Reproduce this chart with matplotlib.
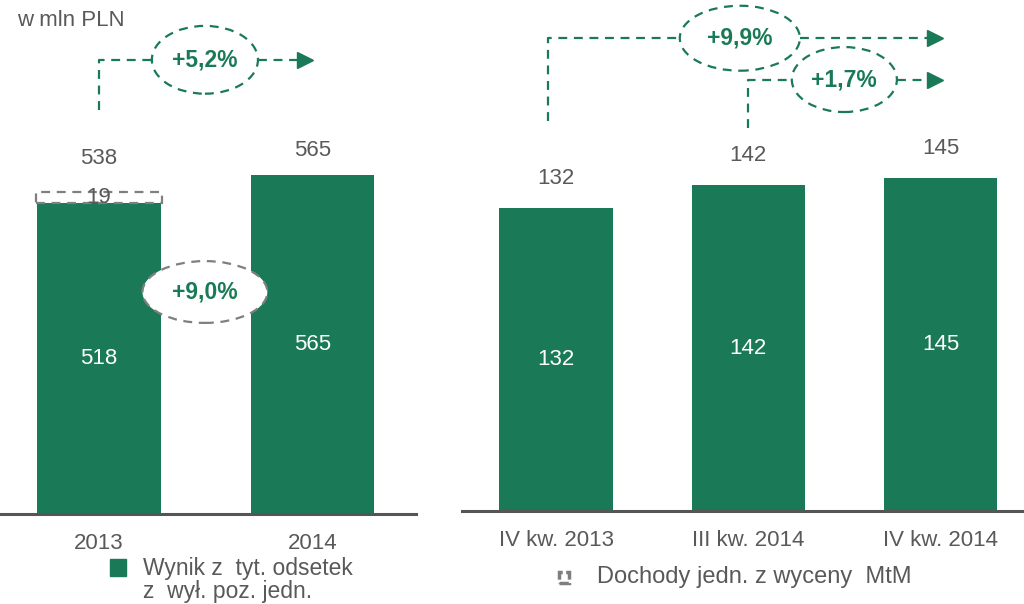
import matplotlib.pyplot as plt
from matplotlib.patches import Ellipse, Rectangle

plt.rcParams['font.family'] = ['Liberation Sans', 'DejaVu Sans']

# data
years = ['2013', '2014']
wynik = [518, 565]          # Wynik z tyt. odsetek z wył. poz. jedn.
mtm = [19, 0]               # Dochody jedn. z wyceny MtM
totals = [538, 565]
quarters = ['IV kw. 2013', 'III kw. 2014', 'IV kw. 2014']
q_vals = [132, 142, 145]
chg_year = '+5,2%'
chg_year_ex = '+9,0%'
chg_q_yoy = '+9,9%'
chg_q_qoq = '+1,7%'

GREEN = '#1a7a57'
GRAY = '#595959'
DGRAY = '#7f7f7f'
DASH = (0, (4, 3))

fig = plt.figure(figsize=(10.24, 6.04), dpi=100)
ax1 = fig.add_axes([0, 90/604, 416/1024, 514/604])
ax2 = fig.add_axes([462/1024, 93/604, 562/1024, 511/604])

for ax in (ax1, ax2):
    for s in ['top', 'right', 'left']:
        ax.spines[s].set_visible(False)
    ax.spines['bottom'].set_color('#555555')
    ax.spines['bottom'].set_linewidth(2.2)
    ax.set_yticks([])
    ax.tick_params(axis='x', length=0, pad=14, labelsize=16, labelcolor=GRAY)


def growth(ax, x0, y0, y1, ex, ew, eh, x_end, label):
    kw = dict(color=GREEN, lw=1.6, linestyle=DASH, clip_on=False)
    ax.plot([x0, x0, ex - ew/2], [y0, y1, y1], **kw)
    ax.plot([ex + ew/2, x_end], [y1, y1], **kw)
    ax.plot([x_end], [y1], marker='>', color=GREEN, markersize=12, clip_on=False)
    ax.add_patch(Ellipse((ex, y1), ew, eh, facecolor='white', edgecolor=GREEN,
                         lw=1.6, linestyle=DASH, clip_on=False, zorder=3))
    ax.text(ex, y1, label, ha='center', va='center', color=GREEN,
            fontsize=16.5, fontweight='bold', zorder=4)


# left panel
x = range(len(years))
ax1.bar(x, wynik, width=0.58, color=GREEN)
ax1.bar(x[0], mtm[0], bottom=wynik[0], width=0.59, facecolor='none',
        edgecolor=DGRAY, lw=1.6, linestyle=DASH)
ax1.set_xlim(-0.464, 1.485)
ax1.set_ylim(0, 514/0.6)
ax1.set_xticks(list(x), years)
for i, off in zip(x, [33, 25]):
    ax1.text(i, wynik[i]/2, str(wynik[i]), ha='center', va='center', color='white', fontsize=16)
    ax1.annotate(str(totals[i]), (i, totals[i]), xytext=(0, off), textcoords='offset pixels',
                 ha='center', va='center', color=GRAY, fontsize=16)
ax1.text(0, wynik[0] + mtm[0]/2, str(mtm[0]), ha='center', va='center', color=GRAY, fontsize=16)

growth(ax1, 0, 673, 757, 0.496, 0.497, 113, 0.965, chg_year)
ax1.add_patch(Ellipse((0.496, 370), 0.585, 103, facecolor='white', edgecolor=DGRAY,
                      lw=1.6, linestyle=DASH, zorder=3))
ax1.text(0.496, 370, chg_year_ex, ha='center', va='center', color=GREEN,
         fontsize=16.5, fontweight='bold', zorder=4)

# right panel
xq = range(len(quarters))
ax2.bar(xq, q_vals, width=0.59, color=GREEN)
ax2.set_xlim(-0.49, 2.435)
ax2.set_ylim(0, 511/2.295)
ax2.set_xticks(list(xq), quarters)
for i in xq:
    ax2.text(i, q_vals[i]/2, str(q_vals[i]), ha='center', va='center', color='white', fontsize=16)
    ax2.annotate(str(q_vals[i]), (i, q_vals[i]), xytext=(0, 30), textcoords='offset pixels',
                 ha='center', va='center', color=GRAY, fontsize=16)

growth(ax2, -0.044, 170, 206, 0.956, 0.625, 28.3, 1.97, chg_q_yoy)
growth(ax2, 1, 167, 188, 1.50, 0.547, 28.3, 1.97, chg_q_qoq)

# header and legends
fig.text(17/1024, 1 - 21/604, 'w mln PLN', ha='left', va='center', color=GRAY, fontsize=16)

fig.patches.append(Rectangle((110/1024, 1 - 576/604), 16/1024, 17/604,
                             transform=fig.transFigure, color=GREEN))
fig.text(143/1024, 1 - 557/604, 'Wynik z  tyt. odsetek\nz  wył. poz. jedn.', ha='left', va='top',
         color=GRAY, fontsize=16.5, linespacing=1.02)
fig.patches.append(Rectangle((559/1024, 1 - 583/604), 10/1024, 11/604,
                             transform=fig.transFigure, facecolor='none', edgecolor=DGRAY,
                             lw=2.5, linestyle=(0, (3, 1))))
fig.text(597/1024, 1 - 577/604, 'Dochody jedn. z wyceny  MtM', ha='left', va='center',
         color=GRAY, fontsize=17)

plt.savefig('out.png', dpi=100)
